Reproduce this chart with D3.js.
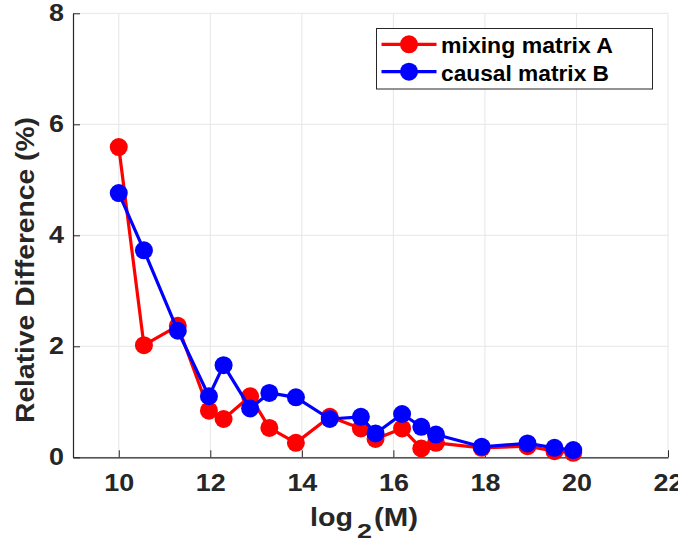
<!DOCTYPE html>
<html>
<head>
<meta charset="utf-8">
<script src="https://cdn.jsdelivr.net/npm/d3@7"></script>
<style>
  html, body { margin: 0; padding: 0; background: #fff; }
  svg { display: block; }
  text { font-family: "Liberation Sans", Arial, Helvetica, sans-serif; font-weight: bold; }
</style>
</head>
<body>
<svg id="chart" width="678" height="544"></svg>
<script>
// ---- data ----
const log2M = [10, 10.55, 11.29, 11.97, 12.29, 12.87, 13.29, 13.87, 14.61, 15.29, 15.61, 16.19, 16.61, 16.93, 17.93, 18.93, 19.52, 19.93];
const mixingA = [5.59, 2.02, 2.37, 0.84, 0.69, 1.10, 0.53, 0.26, 0.73, 0.52, 0.33, 0.52, 0.16, 0.26, 0.17, 0.20, 0.11, 0.08];
const causalB = [4.76, 3.73, 2.28, 1.10, 1.66, 0.88, 1.16, 1.08, 0.69, 0.73, 0.43, 0.78, 0.55, 0.41, 0.19, 0.25, 0.17, 0.13];
const seriesNames = ["mixing matrix A", "causal matrix B"];
const seriesColors = ["#ff0000", "#0000ff"];
const xTicks = [10, 12, 14, 16, 18, 20, 22];
const yTicks = [0, 2, 4, 6, 8];

(function () {
const svg = d3.select("#chart");
const pL = 73, pR = 668, pT = 13.3, pB = 457.3;
const x = d3.scaleLinear().domain([9, 22]).range([pL, pR]);
const y = d3.scaleLinear().domain([0, 8]).range([pB, pT]);
const axisColor = "#262626";
const gridColor = "#e6e6e6";
const tickFs = 23;

function stretch(sel, factor) {
  sel.each(function () {
    const w = this.getComputedTextLength();
    d3.select(this).attr("textLength", w * factor).attr("lengthAdjust", "spacingAndGlyphs");
  });
}

// grid
svg.append("g").selectAll("line").data(xTicks).join("line")
  .attr("x1", d => x(d)).attr("x2", d => x(d)).attr("y1", pT).attr("y2", pB)
  .attr("stroke", gridColor).attr("stroke-width", 1);
svg.append("g").selectAll("line").data(yTicks).join("line")
  .attr("x1", pL).attr("x2", pR).attr("y1", d => y(d)).attr("y2", d => y(d))
  .attr("stroke", gridColor).attr("stroke-width", 1);

// axes
const xAxis = d3.axisBottom(x).tickValues(xTicks).tickSizeInner(-7).tickSizeOuter(0).tickPadding(17);
const gx = svg.append("g").attr("transform", `translate(0,${pB})`).call(xAxis);
gx.select(".domain").attr("stroke", axisColor).attr("stroke-width", 1.2);
gx.selectAll(".tick line").attr("stroke", axisColor);
gx.selectAll(".tick text").attr("fill", axisColor).attr("font-size", tickFs)
  .attr("font-family", '"Liberation Sans", Arial, sans-serif').attr("font-weight", "bold")
  .call(stretch, 1.17);

const yAxis = d3.axisLeft(y).tickValues(yTicks).tickSizeInner(-7).tickSizeOuter(0).tickPadding(9);
const gy = svg.append("g").attr("transform", `translate(${pL},0)`).call(yAxis);
gy.select(".domain").attr("stroke", axisColor).attr("stroke-width", 1.2);
gy.selectAll(".tick line").attr("stroke", axisColor);
gy.selectAll(".tick text").attr("fill", axisColor).attr("font-size", tickFs)
  .attr("font-family", '"Liberation Sans", Arial, sans-serif').attr("font-weight", "bold")
  .call(stretch, 1.17);

// x label: log_2(M)
svg.append("text").attr("x", 310).attr("y", 526).attr("font-size", 25).attr("fill", axisColor)
  .text("log").attr("textLength", 43).attr("lengthAdjust", "spacingAndGlyphs");
svg.append("text").attr("x", 357).attr("y", 538).attr("font-size", 21).attr("fill", axisColor)
  .text("2").attr("textLength", 15).attr("lengthAdjust", "spacingAndGlyphs");
svg.append("text").attr("x", 374).attr("y", 526).attr("font-size", 25).attr("fill", axisColor)
  .text("(M)").attr("textLength", 44).attr("lengthAdjust", "spacingAndGlyphs");

// y label
svg.append("text").attr("transform", "translate(34,270) rotate(-90)")
  .attr("text-anchor", "middle").attr("font-size", 25).attr("fill", axisColor)
  .attr("textLength", 306).attr("lengthAdjust", "spacingAndGlyphs")
  .text("Relative Difference (%)");

// series
const series = [mixingA, causalB];
const line = d3.line().x(d => x(d[0])).y(d => y(d[1]));
series.forEach((vals, i) => {
  const pts = log2M.map((v, j) => [v, vals[j]]);
  const g = svg.append("g");
  g.append("path").datum(pts).attr("d", line).attr("fill", "none")
    .attr("stroke", seriesColors[i]).attr("stroke-width", 3.2).attr("stroke-linejoin", "round");
  g.selectAll("circle").data(pts).join("circle")
    .attr("cx", d => x(d[0])).attr("cy", d => y(d[1])).attr("r", 9)
    .attr("fill", seriesColors[i]);
});

// legend
const lg = svg.append("g");
lg.append("rect").attr("x", 376.5).attr("y", 28.5).attr("width", 276).attr("height", 60.5)
  .attr("fill", "#fff").attr("stroke", axisColor).attr("stroke-width", 1);
const legendLens = [172, 168];
seriesNames.forEach((name, i) => {
  const cy = 44.3 + i * 27.4;
  lg.append("line").attr("x1", 381.5).attr("x2", 436.5).attr("y1", cy).attr("y2", cy)
    .attr("stroke", seriesColors[i]).attr("stroke-width", 3.2);
  lg.append("circle").attr("cx", 409).attr("cy", cy).attr("r", 9).attr("fill", seriesColors[i]);
  lg.append("text").attr("x", 441).attr("y", cy + 9).attr("font-size", 22).attr("fill", "#000")
    .attr("textLength", legendLens[i]).attr("lengthAdjust", "spacingAndGlyphs").text(name);
});
})();
</script>
</body>
</html>
